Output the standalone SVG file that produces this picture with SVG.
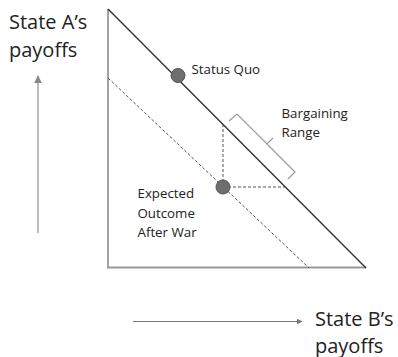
<svg xmlns="http://www.w3.org/2000/svg" width="398" height="357" viewBox="0 0 398 357">
<defs>
<style>
text{font-family:"Open Sans","Noto Sans",sans-serif;fill:#222}
.big{font-size:20px}
.lbl{font-size:13.3px}
.dash{stroke:#555;stroke-width:1;stroke-dasharray:3,2;fill:none}
.dot{fill:#6e6e6e;stroke:#555;stroke-width:1}
</style>
<marker id="ahA" viewBox="0 0 10 10" refX="9" refY="5" markerWidth="4" markerHeight="4" orient="auto"><path d="M0,0L10,5L0,10z" fill="#888"/></marker>
<marker id="ahB" viewBox="0 0 10 10" refX="9" refY="5" markerWidth="6" markerHeight="6" orient="auto"><path d="M0,0L10,5L0,10z" fill="#777"/></marker>
</defs>
<g id="connectors">
<line x1="108" y1="9" x2="108" y2="268" stroke="#666" stroke-width="1.2"/>
<line x1="107" y1="267.5" x2="366" y2="267.5" stroke="#999" stroke-width="2"/>
<line x1="108" y1="9" x2="366" y2="268" stroke="#333" stroke-width="1.4"/>
<line x1="108" y1="78" x2="309" y2="268" class="dash"/>
<line x1="223" y1="187" x2="223" y2="124" class="dash"/>
<line x1="223" y1="187" x2="287" y2="187" class="dash"/>
<path d="M229,121 L237,114 L267,144 L273,138 M267,144 L295,172 L288,179" fill="none" stroke="#999" stroke-width="1.2"/>
<line x1="38" y1="233" x2="38" y2="76" stroke="#bbb" stroke-width="2" marker-end="url(#ahA)"/>
<line x1="133" y1="321.5" x2="302" y2="321.5" stroke="#777" stroke-width="1" marker-end="url(#ahB)"/>
</g>
<g id="status-quo">
<circle cx="178" cy="75.5" r="7" class="dot"/>
<text x="191.5" y="73.5" class="lbl">Status Quo</text>
</g>
<g id="expected-outcome">
<circle cx="223" cy="187" r="7" class="dot"/>
<text x="137.5" y="198" class="lbl">Expected</text>
<text x="137.5" y="217.5" class="lbl">Outcome</text>
<text x="137.5" y="236.5" class="lbl">After War</text>
</g>
<g id="bargaining-range">
<text x="281.5" y="118" class="lbl">Bargaining</text>
<text x="281.5" y="136.5" class="lbl">Range</text>
</g>
<g id="axis-a">
<text x="9" y="29" class="big">State A’s</text>
<text x="9" y="57" class="big">payoffs</text>
</g>
<g id="axis-b">
<text x="315" y="326" class="big">State B’s</text>
<text x="315" y="352.5" class="big">payoffs</text>
</g>
</svg>
